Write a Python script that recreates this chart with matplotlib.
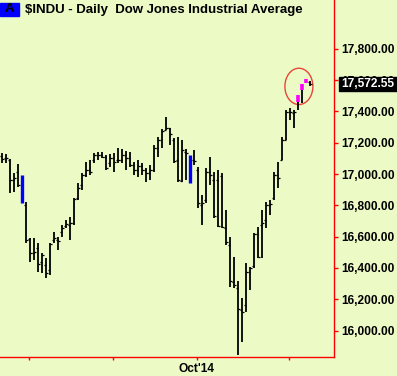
import matplotlib
matplotlib.use("Agg")
import matplotlib.pyplot as plt
from matplotlib.patches import Ellipse, Rectangle
from matplotlib.ticker import FuncFormatter
import numpy as np

# daily bars, $INDU, Jul - Nov 2014
opens = [17115, 17102, 17089, 16962, 17013, 16981, 16802, 16586, 16496, 16528,
         16438, 16419, 16387, 16579, 16579, 16630, 16668, 16675, 16688, 16847,
         16930, 16994, 17026, 17089, 17121, 17121, 17109, 17070, 17102, 17089,
         17089, 17121, 17102, 17058, 17026, 17051, 17026, 17007, 17026, 17166,
         17217, 17281, 17294, 17217, 17089, 16956, 17141, 17109, 17089, 17026,
         16802, 16834, 17013, 16962, 16962, 16988, 16656, 16547, 16311, 16272,
         16132, 16164, 16374, 16413, 16618, 16675, 16707, 16802, 16847, 16994,
         17089, 17217, 17396, 17390, 17460, 17537, 17581, 17588]
highs = [17134, 17128, 17096, 17007, 17064, 16994, 16822, 16592, 16592, 16560,
         16496, 16464, 16560, 16630, 16598, 16675, 16707, 16726, 16847, 16943,
         17007, 17077, 17089, 17134, 17141, 17141, 17121, 17128, 17134, 17166,
         17160, 17147, 17141, 17077, 17089, 17070, 17039, 17058, 17185, 17237,
         17288, 17364, 17294, 17231, 17237, 17217, 17160, 17121, 17153, 17045,
         16866, 17039, 17109, 17013, 17026, 17007, 16770, 16598, 16470, 16317,
         16208, 16432, 16406, 16624, 16662, 16770, 16822, 16834, 17013, 17077,
         17237, 17409, 17422, 17409, 17505, 17575, 17607, 17594]
lows = [17070, 17070, 16879, 16885, 16917, 16815, 16560, 16438, 16451, 16374,
        16368, 16336, 16355, 16560, 16515, 16598, 16656, 16579, 16675, 16834,
        16898, 16981, 16994, 17070, 17089, 17102, 17026, 17045, 17013, 17070,
        17070, 17026, 17045, 16994, 16981, 16994, 16949, 16962, 17013, 17109,
        17166, 17281, 17185, 17070, 16949, 16949, 16962, 16943, 17058, 16783,
        16675, 16815, 16930, 16720, 16662, 16656, 16547, 16279, 16272, 15844,
        15927, 16119, 16259, 16400, 16464, 16464, 16656, 16738, 16834, 16911,
        17089, 17217, 17345, 17294, 17409, 17454, 17581, 17562]
closes = [17096, 17102, 16962, 16975, 16930, 16828, 16579, 16496, 16502, 16426,
          16483, 16368, 16554, 16592, 16573, 16656, 16681, 16688, 16841, 16911,
          16994, 17026, 17013, 17121, 17121, 17109, 17039, 17102, 17077, 17089,
          17121, 17102, 17058, 17026, 17051, 17026, 17007, 17026, 17166, 17217,
          17275, 17294, 17256, 17083, 16962, 17153, 17134, 16956, 17083, 16815,
          16815, 17013, 16994, 16732, 16668, 16662, 16566, 16317, 16291, 16138,
          16119, 16374, 16400, 16618, 16470, 16688, 16802, 16809, 16994, 16975,
          17217, 17396, 17396, 17396, 17505, 17575, 17607, 17572.55]
# 0 = plain bar, 1 = blue signal bar, 2 = magenta bar
bar_kind = [0] * 78
bar_kind[5] = 1
bar_kind[47] = 1
bar_kind[74] = 2
bar_kind[75] = 2
bar_kind[76] = 2

price_ticks = [16000, 16200, 16400, 16600, 16800, 17000, 17200, 17400, 17600, 17800]
month_ticks = [6.8, 27.8, 48.8, 71.8]
month_labels = ["", "", "Oct'14", ""]
last_price = "17,572.55"

bg = "#ECFAC6"
red = "#FF0000"
font = "Liberation Sans"

fig = plt.figure(figsize=(3.97, 3.76), dpi=100, facecolor=bg)
ax = fig.add_axes([0, 19 / 376, 334 / 397, 357 / 376], facecolor=bg)

x = np.arange(len(closes))
for i in x:
    k = bar_kind[i]
    if k == 1:
        ax.vlines(i, lows[i], highs[i], color="#0000FF", lw=2.4)
        continue
    ax.vlines(i, lows[i], highs[i], color="black", lw=1.3)
    if k == 2:
        ax.vlines(i, min(opens[i], closes[i]), max(opens[i], closes[i]),
                  color="#FF00FF", lw=2.6)
        continue
    ax.hlines(opens[i], i - 0.45, i, color="black", lw=0.9)
    ax.hlines(closes[i], i, i + 0.45, color="black", lw=0.9)

ax.add_patch(Ellipse((74.3, 17560), 7.0, 232, fill=False, ec="#E8463C", lw=1.0))

ax.set_xlim(-0.425, 83.075)
ax.set_ylim(15831, 18112)

for s in ["top", "left"]:
    ax.spines[s].set_visible(False)
for s in ["right", "bottom"]:
    ax.spines[s].set_color(red)
    ax.spines[s].set_linewidth(1.0)

ax.yaxis.tick_right()
ax.set_yticks(price_ticks)
ax.yaxis.set_major_formatter(FuncFormatter(lambda v, p: f"{v:,.2f}"))
ax.tick_params(axis="y", colors=red, length=3, width=1, pad=2, labelcolor="black")
ax.set_xticks(month_ticks)
ax.set_xticklabels(month_labels)
ax.tick_params(axis="x", colors=red, length=2, width=1, pad=2, labelcolor="black")
for lab in ax.get_yticklabels() + ax.get_xticklabels():
    lab.set_fontfamily(font)
    lab.set_fontweight("bold")
    lab.set_fontsize(8.6)

# last price box (sits over the 17,600 label, as on the original)
fig.patches.append(Rectangle((339 / 397, 1 - 91 / 376), 58 / 397, 14 / 376,
                             transform=fig.transFigure, color="black", zorder=5))
fig.text(341 / 397, 1 - 84 / 376, last_price, color="white", fontsize=8.6,
         fontweight="bold", family=font, va="center", ha="left", zorder=6)

# title
fig.patches.append(Rectangle((0, 1 - 16 / 376), 19 / 397, 13 / 376,
                             transform=fig.transFigure, color="#0000FF", zorder=5))
fig.text(9.5 / 397, 1 - 9.5 / 376, "A", color="black", fontsize=9.5,
         fontweight="bold", family=font, va="center", ha="center", zorder=6)
fig.text(25 / 397, 1 - 9.5 / 376, "$INDU - Daily  Dow Jones Industrial Average",
         color="black", fontsize=9.5, fontweight="bold", family=font,
         va="center", ha="left", zorder=6)

fig.savefig("out.png", dpi=100, facecolor=bg)
